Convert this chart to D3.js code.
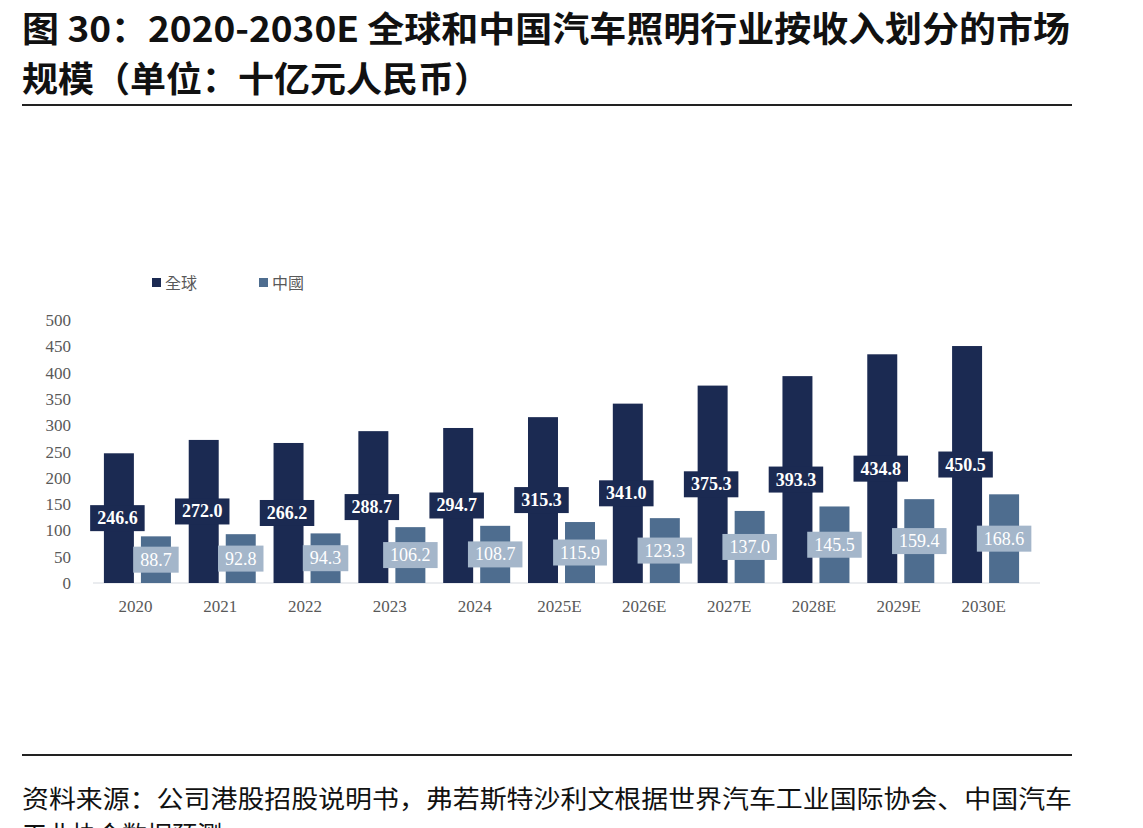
<!DOCTYPE html>
<html>
<head>
<meta charset="utf-8">
<script src="https://cdn.jsdelivr.net/npm/d3@7"></script>
<style>
  body { margin: 0; background: #fff; }
  svg { display: block; }
</style>
</head>
<body>
<svg id="chart" width="1143" height="828"></svg>
<script>
// 数据
const categories = ['2020', '2021', '2022', '2023', '2024', '2025E', '2026E', '2027E', '2028E', '2029E', '2030E'];
const globalValues = [246.6, 272.0, 266.2, 288.7, 294.7, 315.3, 341.0, 375.3, 393.3, 434.8, 450.5];
const chinaValues = [88.7, 92.8, 94.3, 106.2, 108.7, 115.9, 123.3, 137.0, 145.5, 159.4, 168.6];
const seriesNames = ['全球', '中國'];
const yTicks = [0, 50, 100, 150, 200, 250, 300, 350, 400, 450, 500];

const titleLines = ['图 30：2020-2030E 全球和中国汽车照明行业按收入划分的市场', '规模（单位：十亿元人民币）'];
const sourceLines = ['资料来源：公司港股招股说明书，弗若斯特沙利文根据世界汽车工业国际协会、中国汽车', '工业协会数据预测'];

const colors = { global: '#1b2a52', china: '#4e6d8f', chinaLabel: '#a4b6ca' };
const cjk = '"Noto Sans CJK SC", "Noto Sans", sans-serif';
const serif = '"Liberation Serif", "DejaVu Serif", serif';

const svg = d3.select('#chart');

// 标题
svg.selectAll('text.title')
    .data(titleLines)
    .join('text')
    .attr('class', 'title')
    .attr('x', 22)
    .attr('y', (d, i) => 42 + i * 50)
    .attr('font-family', cjk)
    .attr('font-weight', 'bold')
    .attr('font-size', 35)
    .attr('fill', '#111')
    .attr('textLength', (d, i) => i === 0 ? 1048 : 468)
    .attr('lengthAdjust', 'spacingAndGlyphs')
    .text(d => d);

svg.append('line')
    .attr('x1', 22).attr('x2', 1072).attr('y1', 105).attr('y2', 105)
    .attr('stroke', '#222').attr('stroke-width', 2);

svg.append('line')
    .attr('x1', 22).attr('x2', 1072).attr('y1', 755).attr('y2', 755)
    .attr('stroke', '#222').attr('stroke-width', 2);

svg.selectAll('text.source')
    .data(sourceLines)
    .join('text')
    .attr('class', 'source')
    .attr('x', 22)
    .attr('y', (d, i) => 808 + i * 36)
    .attr('font-family', cjk)
    .attr('font-size', 25)
    .attr('fill', '#111')
    .attr('textLength', (d, i) => i === 0 ? 1050 : null)
    .attr('lengthAdjust', 'spacingAndGlyphs')
    .text(d => d);

// 比例尺
const x0 = d3.scaleBand()
    .domain(categories)
    .range([95, 1028])
    .paddingInner(0.21)
    .paddingOuter(0.105);

const x1 = d3.scaleBand()
    .domain(['global', 'china'])
    .range([0, x0.bandwidth()])
    .paddingInner(0.19);

const y = d3.scaleLinear()
    .domain([0, 500])
    .range([583, 320]);

// Y 轴
svg.selectAll('text.ytick')
    .data(yTicks)
    .join('text')
    .attr('class', 'ytick')
    .attr('x', 71)
    .attr('y', d => y(d) + 6)
    .attr('text-anchor', 'end')
    .attr('font-family', serif)
    .attr('font-size', 17)
    .attr('fill', '#595959')
    .text(d => d);

// 基线
svg.append('line')
    .attr('x1', x0.range()[0] - 2)
    .attr('x2', x0.range()[1] + 12)
    .attr('y1', y(0)).attr('y2', y(0))
    .attr('stroke', '#e3e6ea').attr('stroke-width', 1.5);

// X 轴标签
svg.selectAll('text.xtick')
    .data(categories)
    .join('text')
    .attr('class', 'xtick')
    .attr('x', d => x0(d) + x0.bandwidth() / 2 - 2)
    .attr('y', 612)
    .attr('text-anchor', 'middle')
    .attr('font-family', serif)
    .attr('font-size', 17)
    .attr('fill', '#595959')
    .text(d => d);

const rows = categories.map((c, i) => ({ cat: c, global: globalValues[i], china: chinaValues[i] }));

const groups = svg.selectAll('g.group')
    .data(rows)
    .join('g')
    .attr('class', 'group')
    .attr('transform', d => `translate(${x0(d.cat)},0)`);

groups.selectAll('rect.bar')
    .data(d => ['global', 'china'].map(k => ({ key: k, value: d[k] })))
    .join('rect')
    .attr('class', 'bar')
    .attr('x', d => x1(d.key))
    .attr('y', d => y(d.value))
    .attr('width', x1.bandwidth())
    .attr('height', d => y(0) - y(d.value))
    .attr('fill', d => colors[d.key]);

// 数据标签
groups.each(function(d) {
    const g = d3.select(this);
    ['global', 'china'].forEach(k => {
        const cx = x1(k) + x1.bandwidth() / 2 - (k === 'global' ? 1.5 : 0);
        const cy = y(d[k] / 2);
        const label = g.append('g');
        const text = label.append('text')
            .attr('x', cx)
            .attr('y', cy + 6)
            .attr('text-anchor', 'middle')
            .attr('font-family', serif)
            .attr('font-weight', k === 'global' ? 'bold' : 'normal')
            .attr('font-size', 18)
            .attr('fill', '#fff')
            .text(d[k].toFixed(1));
        const w = text.node().getComputedTextLength();
        label.insert('rect', 'text')
            .attr('x', cx - w / 2 - 7)
            .attr('y', cy - 13)
            .attr('width', w + 14)
            .attr('height', 26)
            .attr('fill', k === 'global' ? colors.global : colors.chinaLabel);
    });
});

// 图例
const legend = svg.selectAll('g.legend')
    .data(seriesNames)
    .join('g')
    .attr('class', 'legend')
    .attr('transform', (d, i) => `translate(${152 + i * 107},283)`);

legend.append('rect')
    .attr('x', 0).attr('y', -5)
    .attr('width', 9).attr('height', 9)
    .attr('fill', (d, i) => i === 0 ? colors.global : colors.china);

legend.append('text')
    .attr('x', 13)
    .attr('y', 6)
    .attr('font-family', '"Noto Sans CJK TC", sans-serif')
    .attr('font-size', 16)
    .attr('fill', '#595959')
    .text(d => d);
</script>
</body>
</html>
